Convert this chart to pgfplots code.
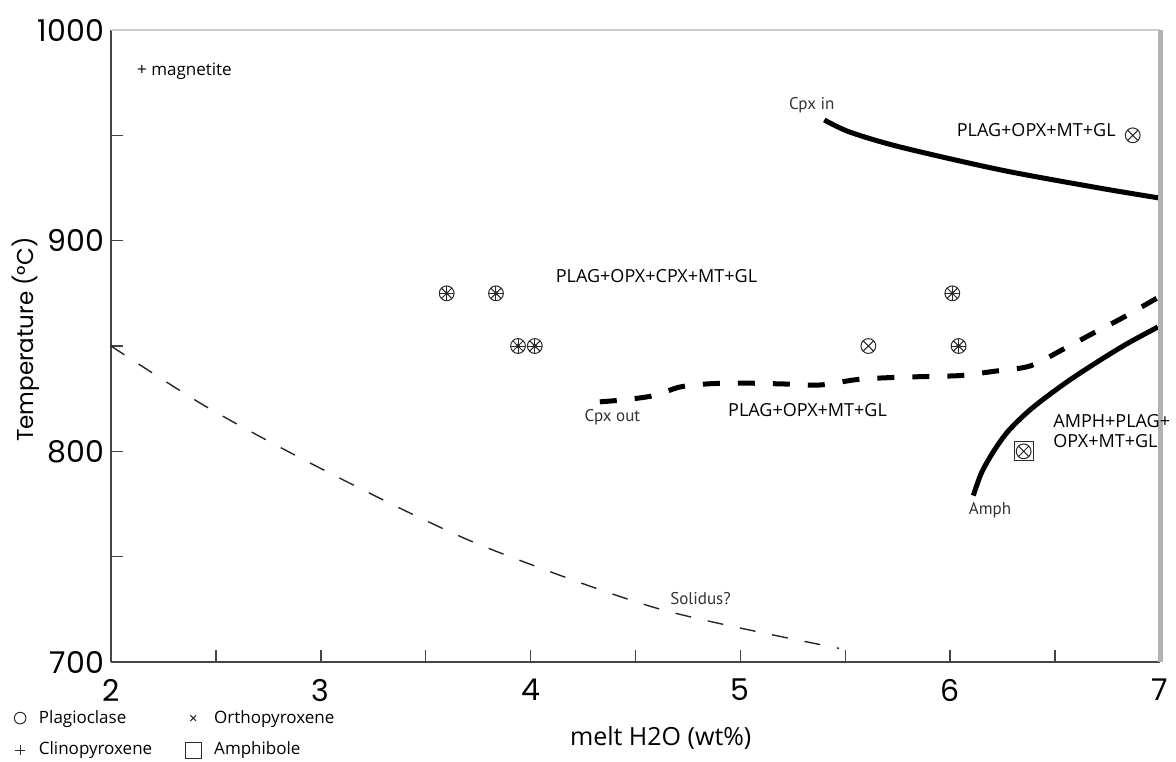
\documentclass[border=0pt]{standalone}
\usepackage{fontspec}
\setmainfont{Open Sans}
\newfontfamily\geo{Poppins}
\newfontfamily\myr{PT Sans}
\usepackage{pgfplots}
\pgfplotsset{compat=1.18}
\definecolor{axgray}{HTML}{444444}
\definecolor{mk}{HTML}{2a2a2a}
\definecolor{lbl}{HTML}{333333}
\begin{document}
\begin{tikzpicture}
\useasboundingbox (-55.5pt,-49.5pt) rectangle (532.5pt,331pt);
\begin{axis}[
  at={(0pt,0pt)}, anchor=south west,
  width=524.5pt, height=316pt, scale only axis,
  xmin=2, xmax=7, ymin=700, ymax=1000,
  axis lines*=left,
  axis line style={draw=axgray, line width=0.75pt},
  xtick={2,3,4,5,6,7}, ytick={700,800,900,1000},
  minor xtick={2.5,3.5,4.5,5.5,6.5}, minor ytick={750,850,950},
  tick align=inside,
  major tick length=6pt, minor tick length=6pt,
  every tick/.style={draw=axgray, line width=0.75pt},
  minor tick style={draw=axgray, line width=0.75pt},
  /pgf/number format/assume math mode=true,
  /pgf/number format/1000 sep={},
  ticklabel style={font=\geo\fontsize{15}{15}\selectfont},
  xticklabel style={yshift=-5pt},
  xlabel={melt H2O (wt\%)},
  xlabel style={at={(axis description cs:0.524,-0.12)}, anchor=center, font=\fontsize{12.5}{14}\selectfont},
  ylabel={Temperature (°C)},
  ylabel style={at={(axis description cs:-0.081,0.51)}, anchor=center, font=\geo\fontsize{11.5}{13}\selectfont},
  clip=false,
  legend columns=2,
  legend cell align=left,
  legend style={draw=none, fill=none, at={(axis description cs:-0.0925,-0.114)}, anchor=west,
    font=\fontsize{8.5}{10}\selectfont, inner sep=0pt, row sep=4pt,
    /tikz/every odd column/.append style={column sep=4.5pt},
    /tikz/every even column/.append style={column sep=14.5pt}},
]
% Cpx in
\addplot[forget plot, smooth, line width=2.5pt] coordinates {
 (5.40,957.3) (5.52,951.6) (5.76,944.5) (6.24,933.6) (6.71,925) (7.0,920.2)};
% Cpx out (dashed)
\addplot[forget plot, smooth, line width=2.5pt, dash pattern=on 8.5pt off 9pt] coordinates {
 (4.33,823.5) (4.45,824.5) (4.59,826.5) (4.71,830.5) (4.84,832) (5.0,832.4) (5.2,832)
 (5.38,831.5) (5.55,834) (5.71,835) (5.88,835.5) (6.05,836) (6.21,838) (6.38,840.5)
 (6.53,848) (6.68,856) (6.82,863.3) (6.99,873)};
% Amph
\addplot[forget plot, smooth, line width=2.5pt] coordinates {
 (6.11,779) (6.15,790) (6.21,800.5) (6.28,810) (6.39,820.5) (6.55,832.5) (6.71,843) (6.85,851.5) (6.99,859)};
% Solidus
\addplot[forget plot, smooth, line width=0.7pt, draw=black!85, dash pattern=on 8pt off 8.5pt] coordinates {
 (2.0,850) (2.44,822) (2.9,797) (3.44,770) (3.85,752) (4.62,725) (5.47,706.5)};
% markers
\addplot[forget plot, only marks, mark=otimes, mark size=3.7pt, mark options={draw=mk, line width=0.5pt}] coordinates {
 (3.60,875) (3.835,875) (3.94,850) (4.02,850) (6.01,875) (6.04,850)
 (5.61,850) (6.87,950) (6.35,800)};
\addplot[forget plot, only marks, mark=+, mark size=3.7pt, mark options={draw=mk, line width=0.5pt}] coordinates {
 (3.60,875) (3.835,875) (3.94,850) (4.02,850) (6.01,875) (6.04,850)};
\addplot[forget plot, only marks, mark=*, mark size=0.9pt, mark options={draw=mk, fill=mk}] coordinates {
 (3.60,875) (3.835,875) (3.94,850) (4.02,850) (6.01,875) (6.04,850)};
\addplot[forget plot, only marks, mark=square, mark size=4.75pt, mark options={draw=mk, line width=0.6pt}] coordinates {
 (6.35,800)};
% frame lines
\draw[draw=black!20, line width=0.75pt] (rel axis cs:0,1) -- (rel axis cs:1,1);
\draw[draw=black!30, line width=2.5pt] (rel axis cs:1,0) -- (rel axis cs:1,1);
% labels
\node[font=\fontsize{8.5}{10}\selectfont] at (axis cs:2.35,980.5) {+ magnetite};
\node[font=\fontsize{9}{10}\selectfont] at (axis cs:6.41,952.5) {PLAG+OPX+MT+GL};
\node[font=\fontsize{9}{10}\selectfont] at (axis cs:4.60,883) {PLAG+OPX+CPX+MT+GL};
\node[font=\fontsize{9}{10}\selectfont] at (axis cs:5.32,819.6) {PLAG+OPX+MT+GL};
\node[font=\fontsize{9}{10}\selectfont, align=left, anchor=west, inner sep=0pt] at (axis cs:6.49,809.7) {AMPH+PLAG+\\OPX+MT+GL};
\node[font=\myr\fontsize{8.5}{10}\selectfont, text=lbl] at (axis cs:5.34,964.4) {Cpx in};
\node[font=\myr\fontsize{8.5}{10}\selectfont, text=lbl] at (axis cs:4.39,816.3) {Cpx out};
\node[font=\myr\fontsize{8.5}{10}\selectfont, text=lbl] at (axis cs:6.19,772) {Amph};
\node[font=\myr\fontsize{8.5}{10}\selectfont, text=lbl] at (axis cs:4.81,730) {Solidus?};
% legend
\addlegendimage{only marks, mark=o, mark size=2.9pt, mark options={draw=mk, line width=0.5pt}}
\addlegendentry{Plagioclase}
\addlegendimage{only marks, mark=x, mark size=2pt, mark options={draw=mk, line width=0.5pt}}
\addlegendentry{Orthopyroxene}
\addlegendimage{only marks, mark=+, mark size=2.6pt, mark options={draw=mk, line width=0.5pt}}
\addlegendentry{Clinopyroxene}
\addlegendimage{only marks, mark=square, mark size=4pt, mark options={draw=mk, line width=0.5pt}}
\addlegendentry{Amphibole}
\end{axis}
\end{tikzpicture}
\end{document}
